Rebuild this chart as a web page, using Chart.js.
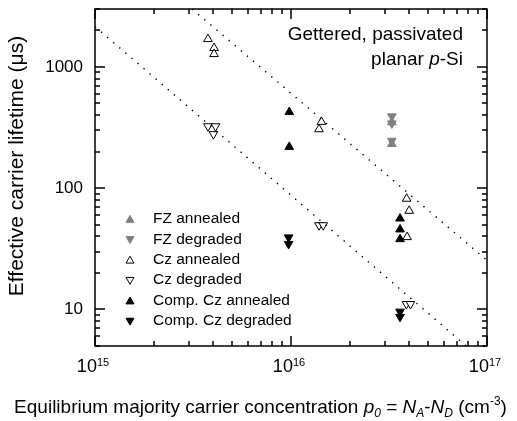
<!DOCTYPE html>
<html>
<head>
<meta charset="utf-8">
<script src="https://cdn.jsdelivr.net/npm/chart.js@4/dist/chart.umd.min.js"></script>
<style>
html,body{margin:0;padding:0;background:#fff;}
#wrap{width:517px;height:421px;position:relative;}
</style>
</head>
<body>
<div id="wrap"><canvas id="c" width="517" height="421"></canvas></div>
<script>
// ---------------- data ----------------
const xRange = [1e15, 1e17];
const yRange = [5, 3000];
const xMajorTicks = [1e15, 1e16, 1e17];
const xTickExponents = ['15', '16', '17'];
const yMajorTicks = [10, 100, 1000];
const yTickLabels = ['10', '100', '1000'];

const fzAnnealedX = [3.27e16, 3.27e16];
const fzAnnealedY = [349, 231];
const fzDegradedX = [3.27e16, 3.27e16, 3.27e16];
const fzDegradedY = [391, 342, 246];

const czAnnealedX = [3.77e15, 4.05e15, 4.05e15, 1.43e16, 1.39e16, 3.89e16, 4.01e16, 3.91e16];
const czAnnealedY = [1694, 1429, 1275, 352, 306, 81.8, 65.1, 39.5];
const czDegradedX = [3.77e15, 4.12e15, 4.02e15, 1.39e16, 1.46e16, 3.88e16, 4.07e16];
const czDegradedY = [324, 324, 279, 49.5, 49.5, 11.1, 11.1];

const compAnnealedX = [9.8e15, 9.8e15, 3.6e16, 3.6e16, 3.6e16];
const compAnnealedY = [424, 219, 56.2, 45.7, 38.0];
const compDegradedX = [9.72e15, 9.72e15, 3.6e16, 3.6e16];
const compDegradedY = [39.3, 34.7, 9.6, 8.7];

const fitUpperX = [3.13e15, 1e17];
const fitUpperY = [3000, 25.4];
const fitLowerX = [1e15, 7.83e16];
const fitLowerY = [2148, 5];

const legendLabels = ['FZ annealed', 'FZ degraded', 'Cz annealed', 'Cz degraded', 'Comp. Cz annealed', 'Comp. Cz degraded'];

// ---------------- styling ----------------
const FONT = "'Liberation Sans', Arial, Helvetica, sans-serif";
const GRAY = '#808080';

function pts(xs, ys) { return xs.map((x, i) => ({ x: x, y: ys[i] })); }

function markerSet(label, xs, ys, fill, stroke, rot, order) {
  return {
    label: label, data: pts(xs, ys), pointStyle: 'triangle', pointRadius: 5, pointHoverRadius: 5,
    pointRotation: rot, backgroundColor: fill, borderColor: stroke, borderWidth: 1,
    showLine: false, order: order, inLegend: true
  };
}
function fitSet(xs, ys) {
  return {
    label: 'fit', data: pts(xs, ys), showLine: true, borderColor: '#000', borderWidth: 1.4,
    borderDash: [1.4, 6.6], pointRadius: 0, fill: false, order: 0, inLegend: false
  };
}

const datasets = [
  markerSet(legendLabels[0], fzAnnealedX, fzAnnealedY, GRAY, GRAY, 0, 3),
  markerSet(legendLabels[1], fzDegradedX, fzDegradedY, GRAY, GRAY, 180, 3),
  markerSet(legendLabels[2], czAnnealedX, czAnnealedY, '#fff', '#000', 0, 1),
  markerSet(legendLabels[3], czDegradedX, czDegradedY, '#fff', '#000', 180, 1),
  markerSet(legendLabels[4], compAnnealedX, compAnnealedY, '#000', '#000', 0, 2),
  markerSet(legendLabels[5], compDegradedX, compDegradedY, '#000', '#000', 180, 2),
  fitSet(fitUpperX, fitUpperY),
  fitSet(fitLowerX, fitLowerY)
];

function tri(ctx, x, y, r, rotDeg, fill, stroke, lw) {
  const rot = rotDeg * Math.PI / 180;
  ctx.beginPath();
  for (let k = 0; k < 3; k++) {
    const a = rot + k * 2 * Math.PI / 3;
    const px = x + Math.sin(a) * r, py = y - Math.cos(a) * r;
    if (k === 0) ctx.moveTo(px, py); else ctx.lineTo(px, py);
  }
  ctx.closePath();
  ctx.fillStyle = fill; ctx.fill();
  ctx.lineWidth = lw; ctx.strokeStyle = stroke; ctx.stroke();
}

function font(size, italic) { return (italic ? 'italic ' : '') + size + 'px ' + FONT; }

function drawRuns(ctx, runs, x, y, align) {
  let total = 0;
  runs.forEach(r => { ctx.font = font(r.size, r.italic); r.w = ctx.measureText(r.t).width; total += r.w; });
  let cx = align === 'center' ? x - total / 2 : (align === 'right' ? x - total : x);
  ctx.textAlign = 'left';
  ctx.textBaseline = 'alphabetic';
  ctx.fillStyle = '#000';
  runs.forEach(r => { ctx.font = font(r.size, r.italic); ctx.fillText(r.t, cx, y + (r.dy || 0)); cx += r.w; });
}

const decorPlugin = {
  id: 'decor',
  afterDraw(chart) {
    const ctx = chart.ctx, a = chart.chartArea, xs = chart.scales.x, ys = chart.scales.y;
    ctx.save();
    // frame
    ctx.strokeStyle = '#000';
    ctx.lineWidth = 1.5;
    ctx.strokeRect(a.left, a.top, a.right - a.left, a.bottom - a.top);
    // inward ticks on all four sides
    ctx.beginPath();
    for (let e = 15; e <= 16; e++) {
      for (let k = 1; k <= 10; k++) {
        const v = k * Math.pow(10, e);
        if (v < xRange[0] || v > xRange[1]) continue;
        const px = Math.round(xs.getPixelForValue(v));
        const len = (k === 1 || k === 10) ? 10 : 5;
        ctx.moveTo(px, a.bottom); ctx.lineTo(px, a.bottom - len);
        ctx.moveTo(px, a.top); ctx.lineTo(px, a.top + len);
      }
    }
    for (let e = 0; e <= 3; e++) {
      for (let k = 1; k <= 9; k++) {
        const v = k * Math.pow(10, e);
        if (v < yRange[0] || v > yRange[1]) continue;
        const py = Math.round(ys.getPixelForValue(v));
        const len = k === 1 ? 10 : 5;
        ctx.moveTo(a.left, py); ctx.lineTo(a.left + len, py);
        ctx.moveTo(a.right, py); ctx.lineTo(a.right - len, py);
      }
    }
    ctx.stroke();

    // x tick labels 10^n
    xMajorTicks.forEach((v, i) => {
      const px = xs.getPixelForValue(v);
      ctx.font = font(18); const w1 = ctx.measureText('10').width;
      ctx.font = font(11); const w2 = ctx.measureText(xTickExponents[i]).width;
      const sx = px - (w1 + w2) / 2 - 2;
      ctx.fillStyle = '#000'; ctx.textAlign = 'left'; ctx.textBaseline = 'alphabetic';
      ctx.font = font(18); ctx.fillText('10', sx, a.bottom + 26);
      ctx.font = font(11); ctx.fillText(xTickExponents[i], sx + w1, a.bottom + 20);
    });

    // x axis title
    drawRuns(ctx, [
      { t: 'Equilibrium majority carrier concentration ', size: 19 },
      { t: 'p', size: 19, italic: true },
      { t: '0', size: 12, italic: true, dy: 4 },
      { t: ' = ', size: 19 },
      { t: 'N', size: 19, italic: true },
      { t: 'A', size: 12, italic: true, dy: 4 },
      { t: '-', size: 19 },
      { t: 'N', size: 19, italic: true },
      { t: 'D', size: 12, italic: true, dy: 4 },
      { t: ' (cm', size: 19 },
      { t: '-3', size: 12, dy: -8 },
      { t: ')', size: 19 }
    ], 260.5, 413, 'center');

    // y axis title
    ctx.save();
    ctx.translate(17.5, 166);
    ctx.rotate(-Math.PI / 2);
    ctx.font = font(21);
    ctx.textAlign = 'center';
    ctx.textBaseline = 'middle';
    ctx.fillStyle = '#000';
    ctx.fillText('Effective carrier lifetime (\u03bcs)', 0, 0);
    ctx.restore();

    // annotation
    drawRuns(ctx, [{ t: 'Gettered, passivated', size: 19 }], a.right - 24, 40, 'right');
    drawRuns(ctx, [{ t: 'planar ', size: 19 }, { t: 'p', size: 19, italic: true }, { t: '-Si', size: 19 }], a.right - 24, 65, 'right');

    // legend inside the plot
    const lx = a.left + 35, tx = a.left + 58, ly0 = a.top + 210, step = 20.4;
    let row = 0;
    chart.data.datasets.forEach(d => {
      if (!d.inLegend) return;
      const yy = ly0 + row * step;
      const cy = d.pointRotation === 180 ? yy - 0.5 : yy + 1;
      tri(ctx, lx, cy, 4.6, d.pointRotation, d.backgroundColor, d.borderColor, 1);
      ctx.font = font(15.5);
      ctx.fillStyle = '#000';
      ctx.textAlign = 'left';
      ctx.textBaseline = 'middle';
      ctx.fillText(d.label, tx, yy);
      row++;
    });
    ctx.restore();
  }
};

new Chart(document.getElementById('c'), {
  type: 'scatter',
  data: { datasets: datasets },
  options: {
    responsive: false,
    animation: false,
    devicePixelRatio: 1,
    events: [],
    layout: { padding: { top: 9, right: 30, left: 0, bottom: 0 } },
    plugins: { legend: { display: false }, tooltip: { enabled: false } },
    scales: {
      x: {
        type: 'logarithmic', min: xRange[0], max: xRange[1],
        grid: { display: false, drawTicks: false },
        border: { display: false },
        ticks: { display: false },
        afterFit(scale) { scale.height = 75; scale.paddingLeft = 0; scale.paddingRight = 0; }
      },
      y: {
        type: 'logarithmic', min: yRange[0], max: yRange[1],
        grid: { display: false, drawTicks: false },
        border: { display: false },
        afterBuildTicks(scale) { scale.ticks = yMajorTicks.map(v => ({ value: v })); },
        ticks: {
          autoSkip: false, padding: 12, color: '#000',
          font: { family: FONT, size: 17 },
          callback(v) { const i = yMajorTicks.indexOf(v); return i >= 0 ? yTickLabels[i] : ''; }
        },
        afterFit(scale) { scale.width = 95; scale.paddingTop = 0; scale.paddingBottom = 0; }
      }
    }
  },
  plugins: [decorPlugin]
});
</script>
</body>
</html>
